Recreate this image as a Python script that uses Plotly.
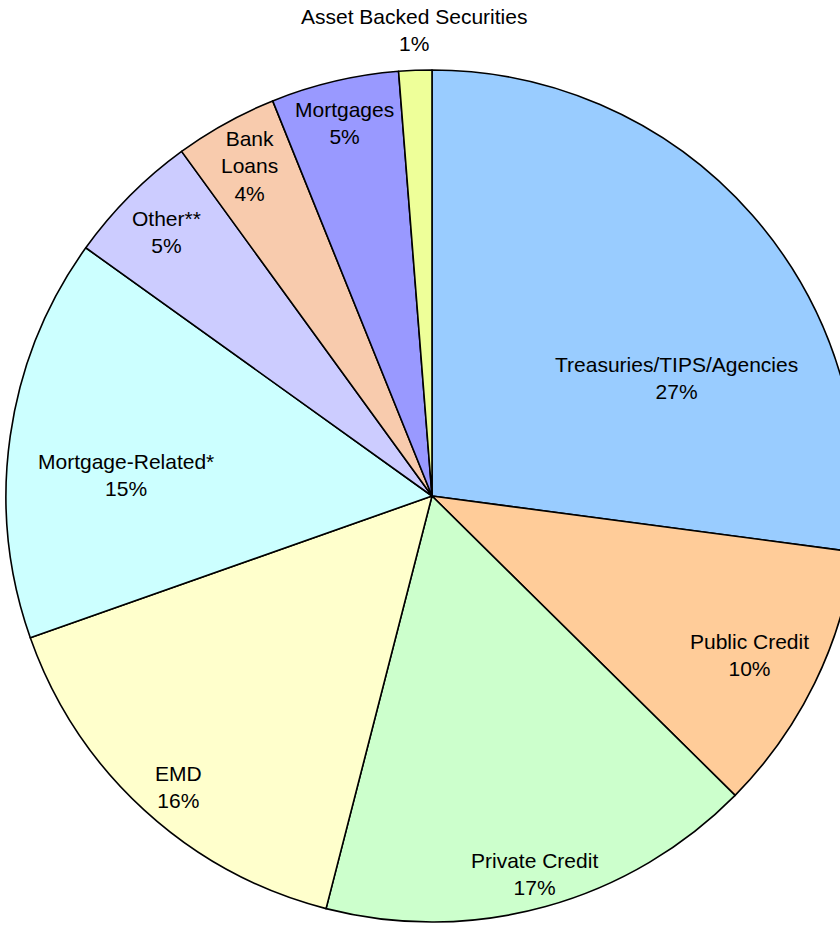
import math
import plotly.graph_objects as go

# Data (percent of portfolio), clockwise from 12 o'clock
categories = [
    "Treasuries/TIPS/Agencies",
    "Public Credit",
    "Private Credit",
    "EMD",
    "Mortgage-Related*",
    "Other**",
    "Bank Loans",
    "Mortgages",
    "Asset Backed Securities",
]
values = [27.1, 10.3, 16.6, 15.6, 15.3, 5.1, 3.9, 4.85, 1.25]
display_labels = [
    "Treasuries/TIPS/Agencies",
    "Public Credit",
    "Private Credit",
    "EMD",
    "Mortgage-Related*",
    "Other**",
    "Bank<br>Loans",
    "Mortgages",
    "Asset Backed Securities",
]

# Styling
colors = ["#99CCFF", "#FFCC99", "#CCFFCC", "#FFFFCC", "#CCFFFF",
          "#CCCCFF", "#F8CBAD", "#9999FF", "#EEFF99"]
# label placement: fraction of radius along (mid-angle + shift)
label_radius = [0.637, 0.834, 0.92, 0.906, 0.721, 0.878, 0.885, 0.90, 1.094]
label_shift_deg = [15.5, 0.5, 0.3, -1.5, -4.2, 0.0, 0.0, 0.0, 0.0]
FONT = "Liberation Sans, Arial, sans-serif"
FONT_SIZE = 21

W, H = 870, 927
R = 426                      # pie radius in px
CX, CY = 432, 496            # pie centre in px (from top-left of figure)

fig = go.Figure(go.Pie(
    labels=categories,
    values=values,
    textinfo="none",
    marker=dict(colors=colors, line=dict(color="black", width=1.6)),
    sort=False,
    direction="clockwise",
    rotation=0,
    showlegend=False,
    hoverinfo="label+percent",
    domain=dict(x=[(CX - R) / W, (CX + R) / W],
                y=[1 - (CY + R) / H, 1 - (CY - R) / H]),
))

total = sum(values)
cum = 0.0
annotations = []
for name, v, rf, sh in zip(display_labels, values, label_radius, label_shift_deg):
    mid = (cum + v / 2) / total * 360.0 + sh
    cum += v
    th = math.radians(mid)
    px = CX + rf * R * math.sin(th)
    py = CY - rf * R * math.cos(th)
    pct = round(v / total * 100)
    annotations.append(dict(
        x=px / W, y=1 - py / H, xref="paper", yref="paper",
        text=f"{name}<br>{pct}%", showarrow=False,
        xanchor="center", yanchor="middle", align="center",
        font=dict(family=FONT, size=FONT_SIZE, color="black"),
    ))

fig.update_layout(
    width=W, height=H,
    margin=dict(l=0, r=0, t=0, b=0),
    paper_bgcolor="white",
    plot_bgcolor="white",
    annotations=annotations,
    font=dict(family=FONT, color="black"),
)

fig.write_html(
    "out.html",
    config={"displayModeBar": False},
    post_script="document.body.style.margin='0';"
                "document.documentElement.style.overflow='hidden';"
                "document.body.style.overflow='hidden';",
)
